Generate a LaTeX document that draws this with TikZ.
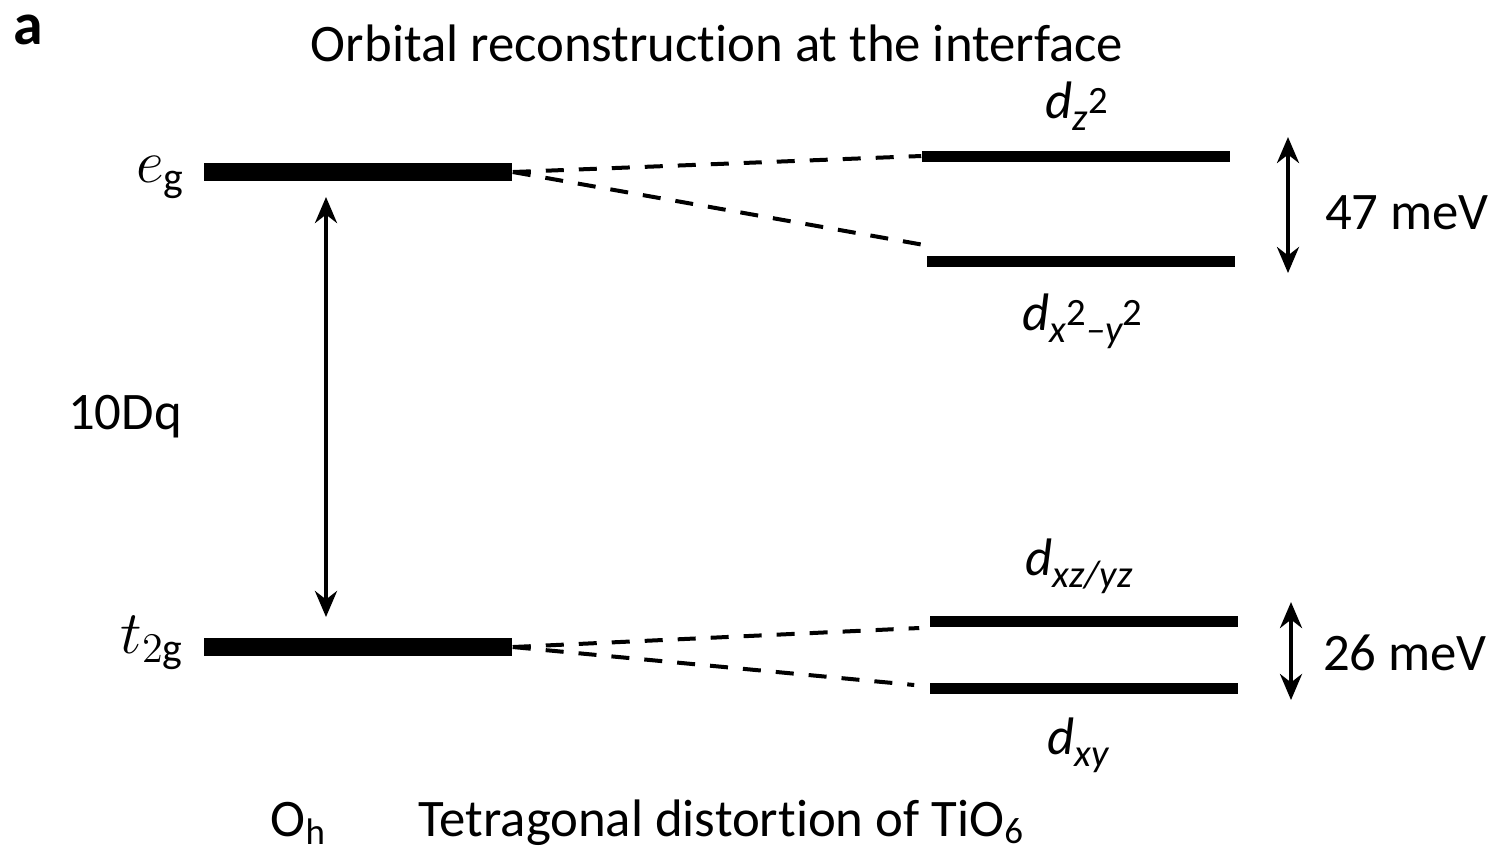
\documentclass[tikz,border=0pt]{standalone}
\usepackage{fontspec}
\setmainfont[Ligatures=NoCommon]{Carlito}
\usetikzlibrary{arrows.meta,calc}

% orbital label: italic d with a lowered index, and a raised square
\newcommand{\orb}[1]{\textit{d}\raisebox{-0.5ex}{\fontsize{11}{12}\selectfont\itshape #1}}
\newcommand{\sqr}{\raisebox{0.9ex}{\upshape 2}}

\begin{document}
\begin{tikzpicture}[
    x=0.01cm, y=-0.01cm,
    font=\fontsize{15}{18}\selectfont,
    level/.style={rectangle, fill=black, inner sep=0pt, minimum width=3.08cm},
    big level/.style={level, minimum height=0.18cm},
    small level/.style={level, minimum height=0.11cm},
    split line/.style={line width=0.04cm, dash pattern=on 0.18cm off 0.15cm},
    gap arrow/.style={{Stealth[length=0.26cm,width=0.22cm]}-{Stealth[length=0.26cm,width=0.22cm]}, line width=0.04cm},
    lbl/.style={inner sep=0pt, anchor=base}
]

\useasboundingbox (0,0) rectangle (1503,853);

% Panel letter and title
\node[lbl, font=\fontsize{17}{20}\selectfont\bfseries] (panel) at (28,44) {a};
\node[lbl] (title) at (717,61) {Orbital reconstruction at the interface};

% O_h levels
\node[big level] (eg) at (358,172) {};
\node[big level] (tg) at (358,647) {};
\node[lbl, anchor=base east] (eg label) at (186,182) {\fontsize{17}{18}\selectfont$e_{\mathrm{g}}$};
\node[lbl, anchor=base east] (tg label) at (185,653) {\fontsize{17}{18}\selectfont$t_{2\mathrm{g}}$};

% Tetragonal levels
\foreach \name/\x/\y in {dzz/1076/156, dxxyy/1081/261, dxzyz/1084/621, dxy/1084/688} {
    \node[small level] (\name) at (\x,\y) {};
}

% Orbital labels
\node[lbl, anchor=base west] (dzz label) at (1045,118) {\orb{z\sqr}};
\node[lbl, anchor=base west] (dxxyy label) at (1022,330) {\orb{x\sqr--y\sqr}};
\node[lbl, anchor=base west] (dxzyz label) at (1025,575) {\orb{xz/yz}};
\node[lbl, anchor=base west] (dxy label) at (1047,754) {\orb{xy}};

% Splitting lines
\draw[split line] (eg.east) -- (dzz.west);
\draw[split line] (eg.east) -- ($(dxxyy.west)+(-2,-16)$);
\draw[split line] (tg.east) -- ($(dxzyz.west)+(-10,7)$);
\draw[split line] (tg.east) -- ($(dxy.west)+(-15,-3)$);

% Energy gaps
\coordinate (dq top) at (326,197);
\coordinate (dq bot) at (326,617);
\draw[gap arrow] (dq top) -- (dq bot);
\node[lbl] (dq label) at (125,429) {10Dq};

\coordinate (eg top) at (1288,137);
\coordinate (eg bot) at (1288,273);
\draw[gap arrow] (eg top) -- (eg bot);
\node[lbl] (eg gap) at (1407,229) {47 meV};

\coordinate (tg top) at (1291,602);
\coordinate (tg bot) at (1291,700);
\draw[gap arrow] (tg top) -- (tg bot);
\node[lbl] (tg gap) at (1405,670) {26 meV};

% Bottom captions
\node[lbl, anchor=base west] (oh) at (270,836) {O\textsubscript{h}};
\node[lbl, anchor=base west] (tetra) at (418,836) {Tetragonal distortion of TiO\textsubscript{6}};

\end{tikzpicture}
\end{document}
